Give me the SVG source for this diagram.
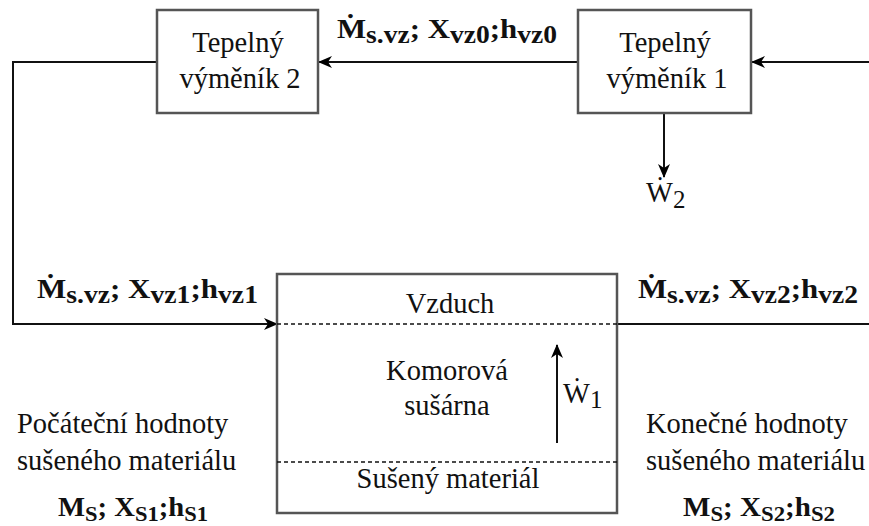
<svg xmlns="http://www.w3.org/2000/svg" width="869" height="526" viewBox="0 0 869 526" font-family="Liberation Serif, serif">
<defs>
<marker id="arr" viewBox="0 0 14 12" refX="13" refY="6" markerWidth="14" markerHeight="12" markerUnits="userSpaceOnUse" orient="auto">
<path d="M0,0 L14,6 L0,12 L4,6 Z" fill="#000"/>
</marker>
<style>
.box{fill:#fff;stroke:#555;stroke-width:2.5}
.ln{fill:none;stroke:#111;stroke-width:2}
.dash{fill:none;stroke:#111;stroke-width:1.5;stroke-dasharray:4 3}
.t{font-family:"Liberation Serif","Times New Roman",serif;font-size:28.5px;fill:#111}
.c{text-anchor:middle}
.b{font-family:"Liberation Serif","Times New Roman",serif;font-size:28px;font-weight:bold;fill:#111}
.s{font-size:25px}
.s2{font-size:22px}
</style>
</defs>
<g id="connectors">
<line class="ln" x1="869" y1="62" x2="752" y2="62" marker-end="url(#arr)"/>
<line class="ln" x1="578" y1="62" x2="319" y2="62" marker-end="url(#arr)"/>
<polyline class="ln" points="157,62 13,62 13,324 277,324" marker-end="url(#arr)"/>
<line class="ln" x1="617" y1="324" x2="869" y2="324"/>
<line class="ln" x1="664" y1="113" x2="664" y2="177" marker-end="url(#arr)"/>
</g>
<g id="tv2">
<rect class="box" x="157" y="10" width="161" height="103"/>
<text class="t c" x="238" y="52">Tepelný</text>
<text class="t c" x="240" y="88">výměník 2</text>
</g>
<g id="tv1">
<rect class="box" x="578" y="10" width="173" height="103"/>
<text class="t c" x="665" y="52">Tepelný</text>
<text class="t c" x="667" y="88">výměník 1</text>
</g>
<g id="w2">
<text class="t" x="646" y="202">Ẇ<tspan dy="6" class="s">2</tspan></text>
</g>
<g id="susarna">
<rect class="box" x="277" y="274" width="340" height="239"/>
<line class="dash" x1="277" y1="324" x2="617" y2="324"/>
<line class="dash" x1="277" y1="462" x2="617" y2="462"/>
<text class="t c" x="450" y="313">Vzduch</text>
<text class="t c" x="447" y="380">Komorová</text>
<text class="t c" x="447" y="415">sušárna</text>
<text class="t c" x="448" y="488">Sušený materiál</text>
<line class="ln" x1="557" y1="443" x2="557" y2="345" marker-end="url(#arr)"/>
<text class="t" x="563" y="403">Ẇ<tspan dy="5" class="s">1</tspan></text>
</g>
<g id="label-top">
<text class="b" x="337" y="38" textLength="220" lengthAdjust="spacingAndGlyphs">Ṁ<tspan dy="5" class="s">s.vz</tspan><tspan dy="-5">; X</tspan><tspan dy="5" class="s">vz0</tspan><tspan dy="-5">;h</tspan><tspan dy="5" class="s">vz0</tspan></text>
</g>
<g id="label-left">
<text class="b" x="37" y="298" textLength="221" lengthAdjust="spacingAndGlyphs">Ṁ<tspan dy="5" class="s">s.vz</tspan><tspan dy="-5">; X</tspan><tspan dy="5" class="s">vz1</tspan><tspan dy="-5">;h</tspan><tspan dy="5" class="s">vz1</tspan></text>
</g>
<g id="label-right">
<text class="b" x="638" y="298" textLength="220" lengthAdjust="spacingAndGlyphs">Ṁ<tspan dy="5" class="s">s.vz</tspan><tspan dy="-5">; X</tspan><tspan dy="5" class="s">vz2</tspan><tspan dy="-5">;h</tspan><tspan dy="5" class="s">vz2</tspan></text>
</g>
<g id="pocatecni">
<text class="t" x="17" y="433">Počáteční hodnoty</text>
<text class="t" x="17" y="470">sušeného materiálu</text>
<text class="b" x="58" y="516" textLength="150" lengthAdjust="spacingAndGlyphs">M<tspan dy="5" class="s2">S</tspan><tspan dy="-5">; X</tspan><tspan dy="5" class="s2">S1</tspan><tspan dy="-5">;h</tspan><tspan dy="5" class="s2">S1</tspan></text>
</g>
<g id="konecne">
<text class="t" x="646" y="433">Konečné hodnoty</text>
<text class="t" x="646" y="470">sušeného materiálu</text>
<text class="b" x="683" y="516" textLength="152" lengthAdjust="spacingAndGlyphs">M<tspan dy="5" class="s2">S</tspan><tspan dy="-5">; X</tspan><tspan dy="5" class="s2">S2</tspan><tspan dy="-5">;h</tspan><tspan dy="5" class="s2">S2</tspan></text>
</g>
</svg>
